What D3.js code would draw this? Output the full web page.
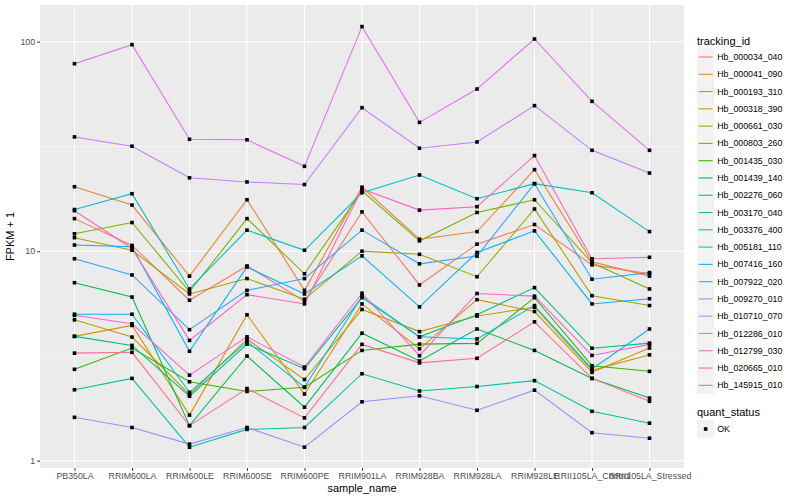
<!DOCTYPE html>
<html>
<head>
<meta charset="utf-8">
<script src="https://cdn.jsdelivr.net/npm/d3@7"></script>
<style>
  body { margin: 0; background: #fff; }
  svg { font-family: "Liberation Sans", Arial, sans-serif; }
</style>
</head>
<body>
<svg id="chart" width="800" height="500"></svg>
<script>
// samples on the x axis
const samples = ["PB350LA", "RRIM600LA", "RRIM600LE", "RRIM600SE", "RRIM600PE", "RRIM901LA",
  "RRIM928BA", "RRIM928LA", "RRIM928LE", "RRII105LA_Control", "RRII105LA_Stressed"];

const yTicks = [1, 10, 100];

// FPKM + 1 per gene, one value per sample
const hb_000034_040 = [14.3, 10.65, 5.83, 8.5, 5.77, 15.4, 6.9, 10.8, 13.4, 8.6, 7.8];
const hb_000041_090 = [20.3, 16.6, 7.6, 17.6, 6.5, 20.2, 11.4, 12.4, 24.5, 8.9, 7.6];
const hb_000193_310 = [3.92, 4.42, 1.65, 4.97, 2.08, 5.6, 3.42, 5.87, 5.15, 2.64, 3.45];
const hb_000318_390 = [4.7, 3.89, 2.07, 3.8, 2.44, 5.27, 4.13, 4.9, 5.4, 2.7, 3.2];
const hb_000661_030 = [11.6, 10.1, 6.25, 7.4, 5.9, 10.0, 9.66, 7.55, 15.9, 6.13, 5.5];
const hb_000803_260 = [12.1, 13.7, 6.4, 14.3, 7.8, 19.4, 11.2, 15.3, 17.6, 8.8, 6.6];
const hb_001435_030 = [2.73, 3.45, 2.38, 2.14, 2.24, 3.36, 3.6, 3.63, 6.0, 2.84, 2.67];
const hb_001439_140 = [7.07, 6.04, 1.47, 3.16, 1.8, 4.06, 2.99, 4.25, 3.36, 2.47, 1.99];
const hb_002276_060 = [3.92, 3.55, 2.03, 3.6, 2.75, 6.0, 3.9, 4.97, 6.7, 3.44, 3.64];
const hb_003170_040 = [2.18, 2.47, 1.16, 1.41, 1.44, 2.6, 2.15, 2.26, 2.41, 1.72, 1.51];
const hb_003376_400 = [15.8, 18.8, 6.6, 12.6, 10.1, 19.0, 23.1, 17.8, 21.0, 19.0, 12.4];
const hb_005181_110 = [5.0, 5.0, 2.12, 3.7, 2.24, 6.1, 3.9, 3.81, 5.5, 2.74, 4.25];
const hb_007416_160 = [10.7, 10.5, 3.33, 8.4, 6.25, 9.5, 5.42, 9.86, 12.5, 5.6, 5.93];
const hb_007922_020 = [9.2, 7.7, 4.22, 6.5, 7.4, 12.6, 8.7, 9.47, 21.0, 7.35, 7.9];
const hb_009270_010 = [1.61, 1.44, 1.2, 1.44, 1.16, 1.91, 2.04, 1.74, 2.17, 1.36, 1.28];
const hb_010710_070 = [35.1, 31.7, 22.4, 21.4, 20.8, 48.4, 31.0, 33.2, 49.5, 30.3, 23.6];
const hb_012286_010 = [78.5, 96.8, 34.2, 34.0, 25.4, 118, 41.2, 59.4, 103, 51.9, 30.3];
const hb_012799_030 = [4.94, 4.5, 2.56, 3.9, 2.8, 6.3, 3.17, 6.28, 6.1, 3.18, 3.59];
const hb_020665_010 = [15.6, 10.3, 3.75, 6.2, 5.6, 19.8, 15.7, 16.3, 28.6, 9.2, 9.35];
const hb_145915_010 = [3.26, 3.29, 1.47, 2.21, 1.6, 3.59, 2.93, 3.08, 4.6, 2.47, 1.92];

const trackingIds = ["Hb_000034_040", "Hb_000041_090", "Hb_000193_310", "Hb_000318_390", "Hb_000661_030",
  "Hb_000803_260", "Hb_001435_030", "Hb_001439_140", "Hb_002276_060", "Hb_003170_040", "Hb_003376_400",
  "Hb_005181_110", "Hb_007416_160", "Hb_007922_020", "Hb_009270_010", "Hb_010710_070", "Hb_012286_010",
  "Hb_012799_030", "Hb_020665_010", "Hb_145915_010"];

const seriesValues = [hb_000034_040, hb_000041_090, hb_000193_310, hb_000318_390, hb_000661_030,
  hb_000803_260, hb_001435_030, hb_001439_140, hb_002276_060, hb_003170_040, hb_003376_400,
  hb_005181_110, hb_007416_160, hb_007922_020, hb_009270_010, hb_010710_070, hb_012286_010,
  hb_012799_030, hb_020665_010, hb_145915_010];

// ggplot hue palette, 20 levels
const colors = ["#F8766D", "#EA8331", "#D89000", "#C09B00", "#A3A500", "#7CAE00", "#39B600", "#00BB4E",
  "#00BF7D", "#00C1A3", "#00BFC4", "#00BAE0", "#00B0F6", "#35A2FF", "#9590FF", "#C77CFF", "#E76BF3",
  "#FA62DB", "#FF62BC", "#FF6C91"];

const series = trackingIds.map((id, i) => ({
  id, color: colors[i],
  points: samples.map((s, j) => ({ sample: s, value: seriesValues[i][j] }))
}));

const svg = d3.select("#chart");
const panel = { left: 40, right: 684, top: 5, bottom: 468 };

const x = d3.scalePoint().domain(samples).range([panel.left, panel.right]).padding(0.6);
const y = d3.scaleLog().domain([Math.pow(10, -0.035), Math.pow(10, 2.175)]).range([panel.bottom, panel.top]);

// panel background + grid
svg.append("rect").attr("x", panel.left).attr("y", panel.top)
  .attr("width", panel.right - panel.left).attr("height", panel.bottom - panel.top).attr("fill", "#EBEBEB");

const minorBreaks = [Math.pow(10, 0.5), Math.pow(10, 1.5)];
svg.append("g").selectAll("line").data(minorBreaks).enter().append("line")
  .attr("x1", panel.left).attr("x2", panel.right)
  .attr("y1", d => y(d)).attr("y2", d => y(d))
  .attr("stroke", "#fff").attr("stroke-width", 0.53);
svg.append("g").selectAll("line").data(yTicks).enter().append("line")
  .attr("x1", panel.left).attr("x2", panel.right)
  .attr("y1", d => y(d)).attr("y2", d => y(d))
  .attr("stroke", "#fff").attr("stroke-width", 1.07);
svg.append("g").selectAll("line").data(samples).enter().append("line")
  .attr("x1", d => x(d)).attr("x2", d => x(d))
  .attr("y1", panel.top).attr("y2", panel.bottom)
  .attr("stroke", "#fff").attr("stroke-width", 1.07);

// lines then points
const line = d3.line().x(d => x(d.sample)).y(d => y(d.value));
svg.append("g").selectAll("path").data(series).enter().append("path")
  .attr("d", d => line(d.points)).attr("fill", "none")
  .attr("stroke", d => d.color).attr("stroke-width", 1.07);

const pts = series.flatMap(s => s.points);
svg.append("g").selectAll("rect").data(pts).enter().append("rect")
  .attr("x", d => x(d.sample) - 1.8).attr("y", d => y(d.value) - 1.8)
  .attr("width", 3.6).attr("height", 3.6).attr("fill", "#000");

// axes
const yAxis = svg.append("g").attr("transform", `translate(${panel.left},0)`)
  .call(d3.axisLeft(y).tickValues(yTicks).tickFormat(d3.format("d")).tickSize(2.74).tickPadding(2.2));
const xAxis = svg.append("g").attr("transform", `translate(0,${panel.bottom})`)
  .call(d3.axisBottom(x).tickSize(2.74).tickPadding(2.2));
[yAxis, xAxis].forEach(a => {
  a.select(".domain").remove();
  a.selectAll(".tick line").attr("stroke", "#333333").attr("stroke-width", 1.07);
  a.selectAll(".tick text").attr("fill", "#4D4D4D").style("font-size", "8.8px")
    .style("font-family", "Liberation Sans, Arial, sans-serif");
});

svg.append("text").attr("x", (panel.left + panel.right) / 2).attr("y", 492)
  .attr("text-anchor", "middle").style("font-size", "11px").text("sample_name");
svg.append("text").attr("transform", `translate(14,${(panel.top + panel.bottom) / 2}) rotate(-90)`)
  .attr("text-anchor", "middle").style("font-size", "11px").text("FPKM + 1");

// legend: tracking_id
const lg = svg.append("g");
lg.append("text").attr("x", 697).attr("y", 45).style("font-size", "11px").text("tracking_id");
const key = 17.28, keyTop = 57 - key / 2;
const items = lg.selectAll("g.item").data(series).enter().append("g")
  .attr("transform", (d, i) => `translate(697,${keyTop + i * key})`);
items.append("rect").attr("width", key).attr("height", key).attr("fill", "#F2F2F2");
items.append("line").attr("x1", 1.7).attr("x2", key - 1.7).attr("y1", key / 2).attr("y2", key / 2)
  .attr("stroke", d => d.color).attr("stroke-width", 1.07);
items.append("text").attr("x", key + 3).attr("y", key / 2 + 3.1).style("font-size", "8.8px").text(d => d.id);

// legend: quant_status
lg.append("text").attr("x", 697).attr("y", 416).style("font-size", "11px").text("quant_status");
const ok = lg.append("g").attr("transform", `translate(697,${429 - key / 2})`);
ok.append("rect").attr("width", key).attr("height", key).attr("fill", "#F2F2F2");
ok.append("rect").attr("x", key / 2 - 1.8).attr("y", key / 2 - 1.8).attr("width", 3.6).attr("height", 3.6).attr("fill", "#000");
ok.append("text").attr("x", key + 3).attr("y", key / 2 + 3.1).style("font-size", "8.8px").text("OK");
</script>
</body>
</html>
